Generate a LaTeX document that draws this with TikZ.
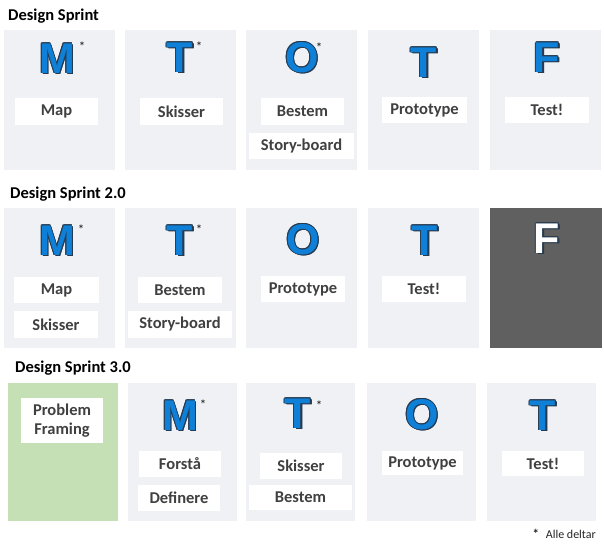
\documentclass[tikz,border=0pt]{standalone}
\usepackage{fontspec}
\setmainfont{Carlito}
\newfontfamily\bigfont{Liberation Sans}
\definecolor{panelbg}{HTML}{EFF1F4}
\definecolor{letterblue}{HTML}{0F80D8}
\definecolor{letterdark}{HTML}{263A50}
\definecolor{labeltext}{HTML}{404040}
\definecolor{darkpanel}{HTML}{606060}
\definecolor{greenpanel}{HTML}{C5E0B4}
\tikzset{
  panel/.style={fill=panelbg, draw=none, inner sep=0pt, outer sep=0pt},
  darkbox/.style={fill=darkpanel, draw=none, inner sep=0pt, outer sep=0pt},
  greenbox/.style={fill=greenpanel, draw=none, inner sep=0pt, outer sep=0pt},
  lab/.style={fill=white, draw=none, inner sep=0pt, outer sep=0pt, text=labeltext,
    font=\fontsize{16.5}{19}\selectfont\bfseries, align=center},
  title/.style={anchor=base west, inner sep=0pt, text=black, font=\fontsize{16.5}{19}\selectfont\bfseries},
  bigletter/.style={anchor=base, inner sep=0pt, outer sep=0pt, font=\bigfont\bfseries\fontsize{43}{43}\selectfont},
  ast/.style={anchor=base, inner sep=0pt, text=black!80, font=\fontsize{12}{12}\selectfont\bfseries},
}
% panel: name, x1, y1, x2, y2, style
\newcommand\mkpanel[6]{%
  \node[#6, minimum width={(#4-#2)*1pt}, minimum height={(#5-#3)*1pt}] (#1) at ({(#2+#4)/2},{(#3+#5)/2}) {};}
% label: name, x1, y1, x2, y2, text
\newcommand\mklab[6]{%
  \node[lab, minimum width={(#4-#2)*1pt}, minimum height={(#5-#3)*1pt}] (#1) at ({(#2+#4)/2},{(#3+#5)/2}) {#6};}
% big letter: name, x, baseline y, letter, fill colour
\newcommand\mkbig[5]{%
  \foreach \dx/\dy [count=\k] in {0.9/0,-0.9/0,0/0.9,0/-0.9,0.65/0.65,-0.65/0.65,0.65/-0.65,-0.65/-0.65,1.2/1.2,1.7/1.7}{%
    \node[bigletter, text=letterdark] (#1-s\k) at ({#2+\dx},{#3+\dy}) {#4};}
  \node[bigletter, text=#5] (#1) at (#2,#3) {#4};}
\begin{document}
\begin{tikzpicture}[x=1pt,y=-1pt]
\useasboundingbox (0,0) rectangle (604,546);
\fill[white] (0,0) rectangle (604,546);

% ---------- Row 1 ----------
\node[title] (t1) at (8,20) {Design Sprint};
\mkpanel{p11}{4}{30}{115}{170}{panel}
\mkpanel{p12}{125}{30}{236}{170}{panel}
\mkpanel{p13}{246}{30}{357}{170}{panel}
\mkpanel{p14}{368}{30}{479}{170}{panel}
\mkpanel{p15}{490}{30}{601}{170}{panel}
\mkbig{L11}{57}{73}{M}{letterblue}
\mkbig{L12}{180}{72}{T}{letterblue}
\mkbig{L13}{302}{72}{O}{letterblue}
\mkbig{L14}{424}{77}{T}{letterblue}
\mkbig{L15}{547}{72}{F}{letterblue}
\node[ast] (a11) at (82,50) {*};
\node[ast] (a12) at (199,50) {*};
\node[ast] (a13) at (319,51) {*};
\mklab{b11}{15}{98}{98}{125}{Map}
\mklab{b12}{140}{98}{223}{125}{Skisser}
\mklab{b13}{261}{98}{344}{125}{Bestem}
\mklab{b13b}{249}{133}{354}{159}{Story-board}
\mklab{b14}{382}{97}{467}{123}{Prototype}
\mklab{b15}{505}{97}{589}{123}{Test!}

% ---------- Row 2 ----------
\node[title] (t2) at (10,198) {Design Sprint 2.0};
\mkpanel{p21}{4}{208}{115}{348}{panel}
\mkpanel{p22}{125}{208}{236}{348}{panel}
\mkpanel{p23}{246}{208}{357}{348}{panel}
\mkpanel{p24}{368}{208}{479}{348}{panel}
\mkpanel{p25}{490}{208}{602}{348}{darkbox}
\mkbig{L21}{57}{255}{M}{letterblue}
\mkbig{L22}{180}{255}{T}{letterblue}
\mkbig{L23}{303}{254}{O}{letterblue}
\mkbig{L24}{425}{255}{T}{letterblue}
\mkbig{L25}{547}{253}{F}{white}
\node[ast] (a21) at (81,233) {*};
\node[ast] (a22) at (199,233) {*};
\mklab{b21}{14}{277}{99}{303}{Map}
\mklab{b21b}{14}{311}{98}{338}{Skisser}
\mklab{b22}{138}{277}{222}{303}{Bestem}
\mklab{b22b}{128}{311}{232}{338}{Story-board}
\mklab{b23}{261}{276}{345}{302}{Prototype}
\mklab{b24}{382}{276}{466}{302}{Test!}

% ---------- Row 3 ----------
\node[title] (t3) at (15,372) {Design Sprint 3.0};
\mkpanel{p31}{8}{383}{118}{521}{greenbox}
\mkpanel{p32}{128}{383}{237}{521}{panel}
\mkpanel{p33}{246}{383}{355}{521}{panel}
\mkpanel{p34}{367}{383}{476}{521}{panel}
\mkpanel{p35}{487}{383}{596}{521}{panel}
\mkbig{L32}{180}{430}{M}{letterblue}
\mkbig{L33}{298}{428}{T}{letterblue}
\mkbig{L34}{422}{429}{O}{letterblue}
\mkbig{L35}{543}{430}{T}{letterblue}
\node[ast] (a32) at (203,408) {*};
\node[ast] (a33) at (319,409) {*};
\mklab{b31}{21}{398}{103}{443}{Problem\\Framing}
\mklab{b32}{139}{451}{221}{477}{Forstå}
\mklab{b32b}{138}{485}{220}{511}{Definere}
\mklab{b33}{260}{453}{342}{479}{Skisser}
\mklab{b33b}{249}{485}{352}{510}{Bestem}
\mklab{b34}{382}{451}{463}{475}{Prototype}
\mklab{b35}{502}{451}{584}{476}{Test!}

% ---------- footnote ----------
\node[anchor=base east, inner sep=0pt, text=black!85, font=\fontsize{12}{12}\selectfont] (note) at (596,538)
  {{\bfseries\fontsize{13}{13}\selectfont *}\,\, Alle deltar};
\end{tikzpicture}
\end{document}
